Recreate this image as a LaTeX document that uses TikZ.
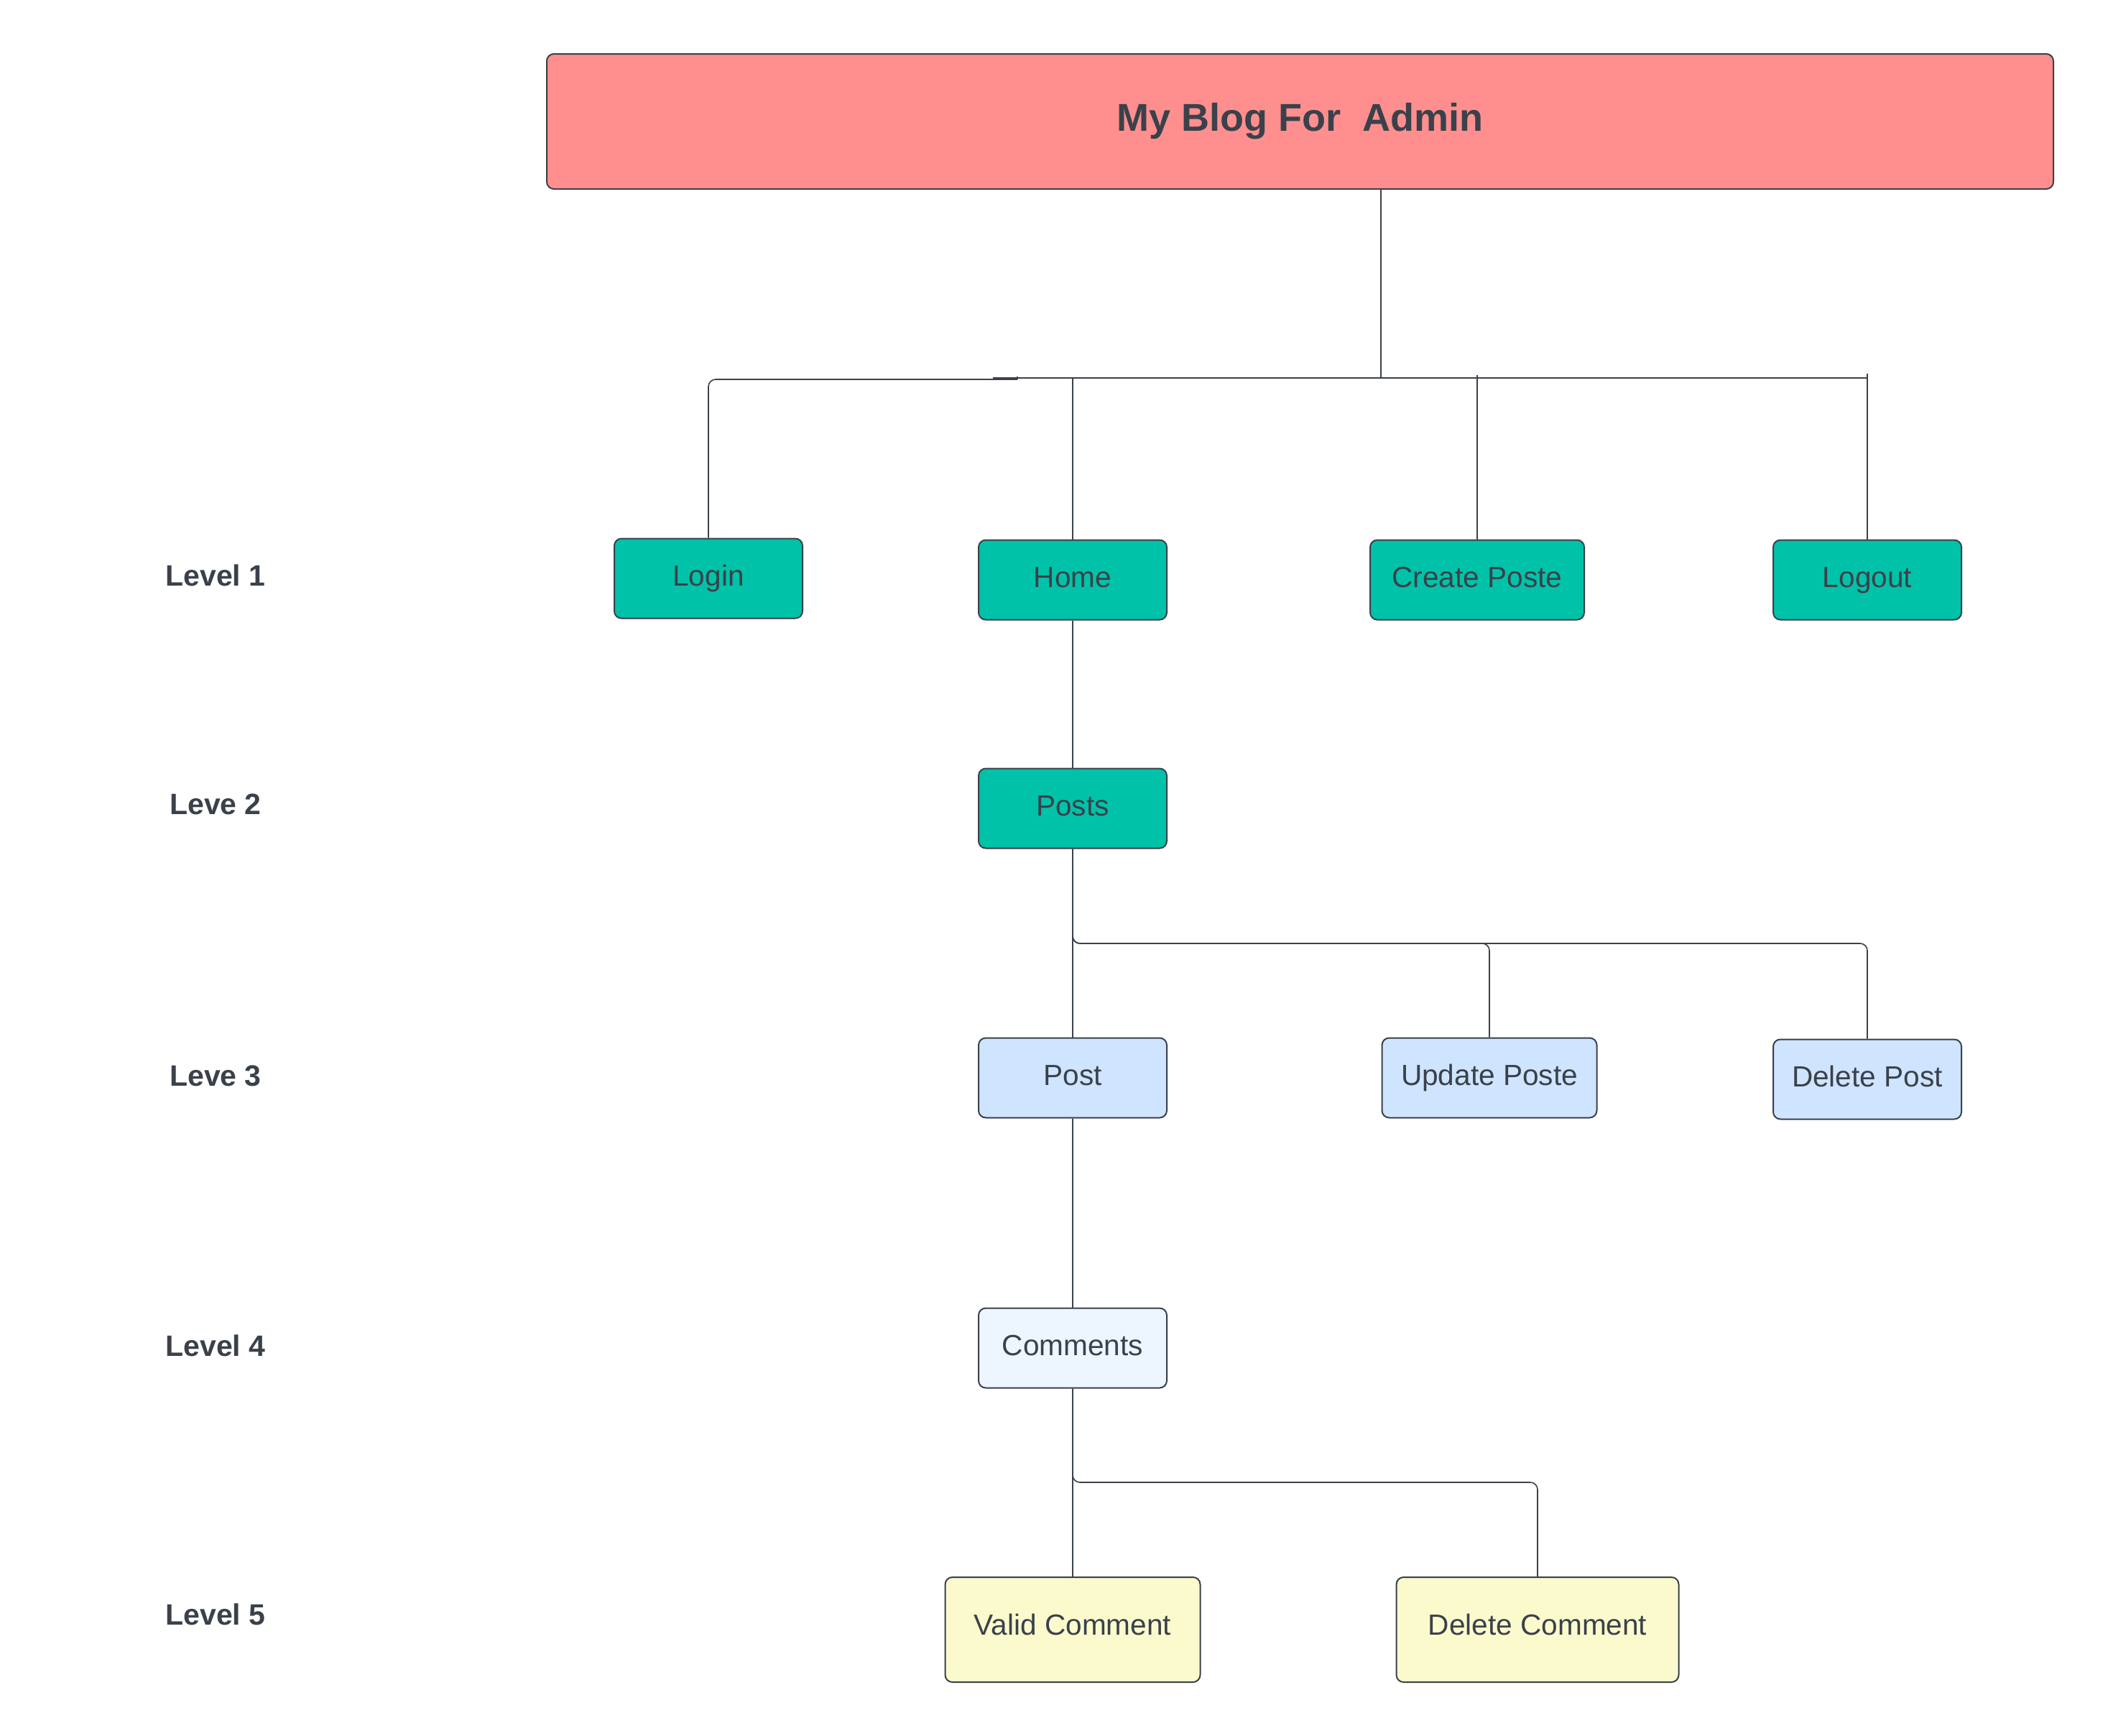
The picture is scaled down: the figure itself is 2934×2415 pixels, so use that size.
\documentclass[tikz,border=0pt]{standalone}
\usepackage{fontspec}
\setmainfont{Liberation Sans}
\begin{document}
\definecolor{txt}{HTML}{3A414A}
\definecolor{edge}{HTML}{3A414A}
\definecolor{titlefill}{HTML}{FF8F8F}
\definecolor{teal}{HTML}{00C2A8}
\definecolor{lblue}{HTML}{CFE4FF}
\definecolor{xlblue}{HTML}{EDF5FF}
\definecolor{lyellow}{HTML}{FBFACD}
\begin{tikzpicture}[x=0.5pt,y=-0.5pt,
  box/.style={draw=edge, line width=1pt, rounded corners=5pt, text=txt,
     font=\fontsize{20.3}{24}\selectfont, minimum height=55.5pt, inner sep=0pt,
     text height=14pt, text depth=3.5pt},
  l1/.style={box, fill=teal, minimum width=131pt},
  l3/.style={box, fill=lblue, minimum width=131pt},
  l4/.style={box, fill=xlblue, minimum width=131pt},
  l5/.style={box, fill=lyellow, minimum height=73pt, text height=7.2pt, text depth=0pt},
  lvl/.style={text=txt, font=\fontsize{20.5}{24}\selectfont\bfseries},
  conn/.style={draw=edge, line width=0.8pt},
  rc/.style={conn, rounded corners=5pt}]
\useasboundingbox[fill=white] (0,0) rectangle (2934,2415);

% title
\node[draw=edge, line width=1pt, rounded corners=5pt, fill=titlefill, text=txt,
  font=\fontsize{27}{32}\selectfont\bfseries, minimum width=1048.5pt, minimum height=94pt]
  (title) at (1809.5,169) {My Blog For\ \ Admin};

% level labels
\node[lvl] (lab1) at (300,801) {Level 1};
\node[lvl] (lab2) at (300,1119) {Leve 2};
\node[lvl] (lab3) at (300,1497) {Leve 3};
\node[lvl] (lab4) at (300,1873) {Level 4};
\node[lvl] (lab5) at (300,2247) {Level 5};

% level 1
\node[l1] (login) at (986,805) {Login};
\node[l1] (home) at (1493,807) {Home};
\node[l1, minimum width=149pt] (create) at (2056,807) {Create Poste};
\node[l1] (logout) at (2599,807) {Logout};

% level 2
\node[l1] (posts) at (1493,1125) {Posts};

% level 3
\node[l3] (post) at (1493,1500) {Post};
\node[l3, minimum width=149.5pt] (update) at (2073,1500) {Update Poste};
\node[l3] (delpost) at (2599,1502) {Delete Post};

% level 4
\node[l4] (comments) at (1493,1876) {Comments};

% level 5
\node[l5, minimum width=177.5pt] (valid) at (1493,2268) {Valid Comment};
\node[l5, minimum width=196.5pt] (delcom) at (2140,2268) {Delete Comment};

% bus coordinates
\coordinate (busT) at (1922,526);
\coordinate (busL) at (1382,526);
\coordinate (busR) at (2599,526);
\coordinate (loginEnd) at (1416,528);
\coordinate (b3) at (1493,1313);
\coordinate (b5) at (1493,2063);

% title to bus
\draw[conn] (title.south -| busT) -- (busT);
\draw[conn] (busL) -- (busR);
\draw[rc] (login.north) |- (loginEnd);
\draw[conn] (loginEnd) -- ++(0,-4);
\draw[conn] (home.north) -- (home.north |- busT);
\draw[conn] (create.north) -- ([yshift=2pt]create.north |- busT);
\draw[conn] (logout.north) -- ([yshift=3pt]logout.north |- busR);

% home to posts
\draw[conn] (home.south) -- (posts.north);

% posts to level 3
\draw[conn] (posts.south) -- (post.north);
\draw[rc] (posts.south) |- (b3 -| update.north) -- (update.north);
\draw[rc] (posts.south) |- (b3 -| delpost.north) -- (delpost.north);

% post to comments
\draw[conn] (post.south) -- (comments.north);

% comments to level 5
\draw[conn] (comments.south) -- (valid.north);
\draw[rc] (comments.south) |- (b5 -| delcom.north) -- (delcom.north);
\end{tikzpicture}
\end{document}
